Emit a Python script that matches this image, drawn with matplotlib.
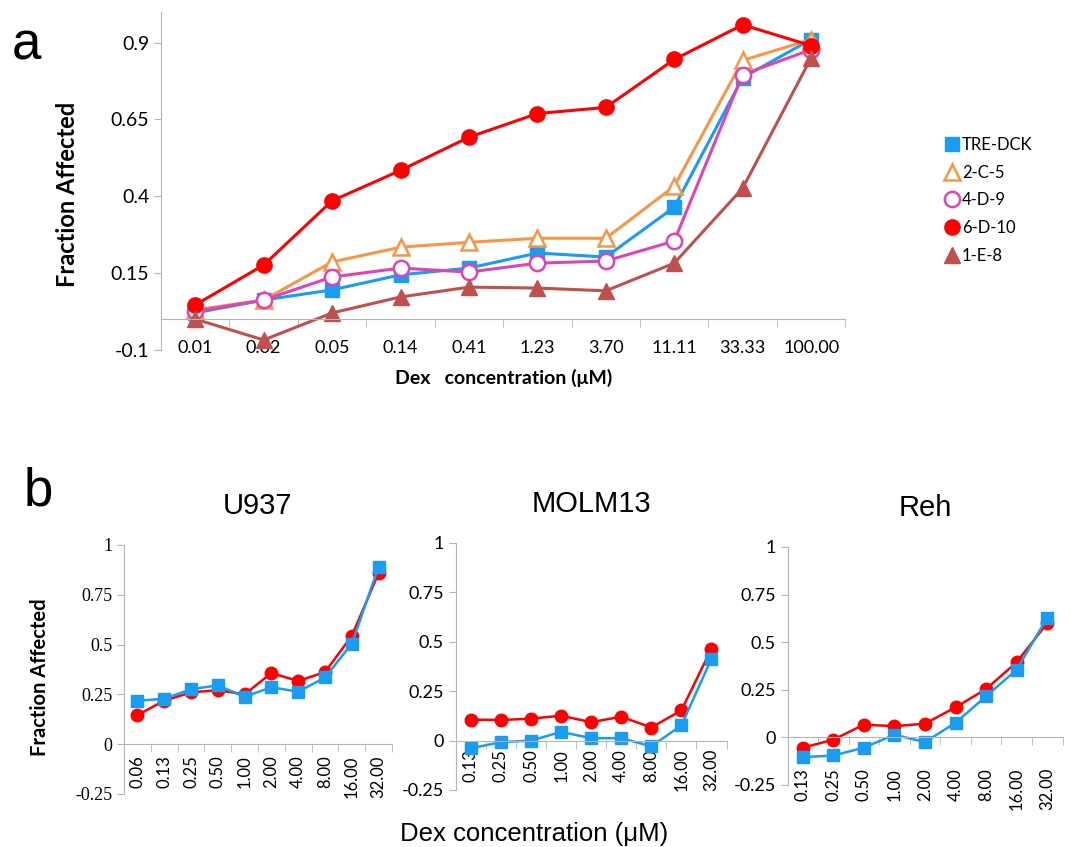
import numpy as np
import matplotlib
matplotlib.use("Agg")
import matplotlib.pyplot as plt

# panel a: Dex dose response for the clones
conc_a = ["0.01", "0.02", "0.05", "0.14", "0.41", "1.23", "3.70", "11.11", "33.33", "100.00"]
tre_dck = [0.02, 0.062, 0.095, 0.144, 0.166, 0.215, 0.202, 0.364, 0.786, 0.91]
c2_c_5 = [0.03, 0.062, 0.186, 0.234, 0.25, 0.263, 0.263, 0.432, 0.842, 0.91]
c4_d_9 = [0.025, 0.062, 0.137, 0.166, 0.153, 0.182, 0.189, 0.254, 0.796, 0.877]
c6_d_10 = [0.046, 0.176, 0.385, 0.484, 0.592, 0.669, 0.689, 0.845, 0.958, 0.89]
c1_e_8 = [0.0, -0.068, 0.02, 0.072, 0.104, 0.101, 0.092, 0.182, 0.426, 0.85]
yticks_a = [-0.1, 0.15, 0.4, 0.65, 0.9]

# panel b: three cell lines, red vs blue
conc_u937 = ["0.06", "0.13", "0.25", "0.50", "1.00", "2.00", "4.00", "8.00", "16.00", "32.00"]
u937_red = [0.146, 0.218, 0.26, 0.271, 0.25, 0.357, 0.317, 0.362, 0.544, 0.859]
u937_blue = [0.218, 0.228, 0.276, 0.295, 0.238, 0.286, 0.263, 0.335, 0.504, 0.891]

conc_b = ["0.13", "0.25", "0.50", "1.00", "2.00", "4.00", "8.00", "16.00", "32.00"]
molm_red = [0.106, 0.104, 0.111, 0.126, 0.093, 0.121, 0.066, 0.153, 0.465]
molm_blue = [-0.039, -0.008, 0.0, 0.044, 0.012, 0.012, -0.029, 0.077, 0.414]
reh_red = [-0.054, -0.012, 0.067, 0.059, 0.072, 0.158, 0.254, 0.395, 0.6]
reh_blue = [-0.104, -0.095, -0.054, 0.014, -0.025, 0.077, 0.216, 0.356, 0.628]
yticks_b = [-0.25, 0, 0.25, 0.5, 0.75, 1]

BLUE = "#1a9cf2"
ORANGE = "#f79646"
PINK = "#df44b6"
RED = "#ff0000"
BROWN = "#c0504d"
GRID = "#b5b5b5"
ARIAL = ["Liberation Sans", "DejaVu Sans"]

plt.rcParams["font.family"] = ["Lato", "DejaVu Sans"]

fig = plt.figure(figsize=(10.7, 8.47), dpi=100)


def style_axis(ax, n, labels, yticks, pad, rot, fs, yfs, tickfont=None):
    ax.set_xlim(-0.5, n - 0.5)
    for s in ["top", "right"]:
        ax.spines[s].set_visible(False)
    ax.spines["left"].set_color(GRID)
    ax.spines["bottom"].set_color(GRID)
    ax.spines["bottom"].set_position(("data", 0))
    ax.set_xticks(range(n))
    ax.set_xticklabels(labels, rotation=rot, fontsize=fs)
    ax.set_xticks(np.arange(-0.5, n, 1), minor=True)
    ax.tick_params(axis="x", which="major", length=0, pad=pad)
    ax.tick_params(axis="x", which="minor", length=6, color=GRID, direction="out")
    ax.set_yticks(yticks)
    ax.set_yticklabels([f"{v:g}" for v in yticks])
    ax.tick_params(axis="y", length=5, color=GRID, labelsize=yfs)
    if tickfont:
        ax.tick_params(axis="y", labelfontfamily=tickfont)


# ---- panel a ----
ax = fig.add_axes([0.1505, 0.587, 0.6395, 0.399])
x = np.arange(len(conc_a))
ax.plot(x, tre_dck, color=BLUE, lw=2.2, marker="s", ms=10, label="TRE-DCK")
ax.plot(x, c2_c_5, color=ORANGE, lw=2.2, marker="^", ms=11, mfc="white", mew=1.8, label="2-C-5")
ax.plot(x, c4_d_9, color=PINK, lw=2.2, marker="o", ms=11, mfc="white", mew=1.8, label="4-D-9")
ax.plot(x, c6_d_10, color=RED, lw=2.2, marker="o", ms=11, label="6-D-10")
ax.plot(x, c1_e_8, color=BROWN, lw=2.2, marker="^", ms=11, label="1-E-8")
ax.set_ylim(-0.1, 1.0)
style_axis(ax, len(conc_a), conc_a, yticks_a, 15, 0, 13, 14)
ax.set_ylabel("Fraction Affected", fontsize=17, fontweight="bold")
ax.yaxis.set_label_coords(-0.12, 0.46)
ax.set_xlabel("Dex   concentration (\u03bcM)", fontsize=14, fontweight="bold", labelpad=9)

handles, labs = ax.get_legend_handles_labels()
leg = fig.legend(handles, labs, loc="upper left", bbox_to_anchor=(0.871, 0.856),
                 frameon=False, fontsize=12, handlelength=0.6, handletextpad=0.3,
                 labelspacing=0.7)
for h in leg.legend_handles:
    h.set_linestyle("none")

fig.text(0.011, 0.946, "a", fontsize=38, family=ARIAL, va="center", ha="left")

# ---- panel b ----
panels = [
    ("U937", [0.1159, 0.0626, 0.2505, 0.294], conc_u937, u937_red, u937_blue, 8, "Liberation Serif"),
    ("MOLM13", [0.426, 0.0673, 0.253, 0.2917], conc_b, molm_red, molm_blue, 6, None),
    ("Reh", [0.736, 0.0732, 0.257, 0.281], conc_b, reh_red, reh_blue, 22, None),
]
for title, rect, labels, red, blue, pad, tf in panels:
    bx = fig.add_axes(rect)
    xb = np.arange(len(labels))
    bx.plot(xb, red, color=RED, lw=1.8, marker="o", ms=9)
    bx.plot(xb, blue, color=BLUE, lw=1.8, marker="s", ms=9)
    bx.set_ylim(-0.25, 1)
    style_axis(bx, len(labels), labels, yticks_b, pad, 90, 12, 13, tf)
    bx.set_title(title, fontsize=21, family=ARIAL, pad=22)

fig.text(0.037, 0.20, "Fraction Affected", fontsize=14.5, fontweight="bold",
         rotation=90, va="center", ha="center")
fig.text(0.499, 0.001, "Dex concentration (\u03bcM)", fontsize=18.5,
         family=ARIAL, ha="center", va="bottom")
fig.text(0.022, 0.42, "b", fontsize=38, family=ARIAL, va="center", ha="left")

fig.savefig("out.png", dpi=100)
